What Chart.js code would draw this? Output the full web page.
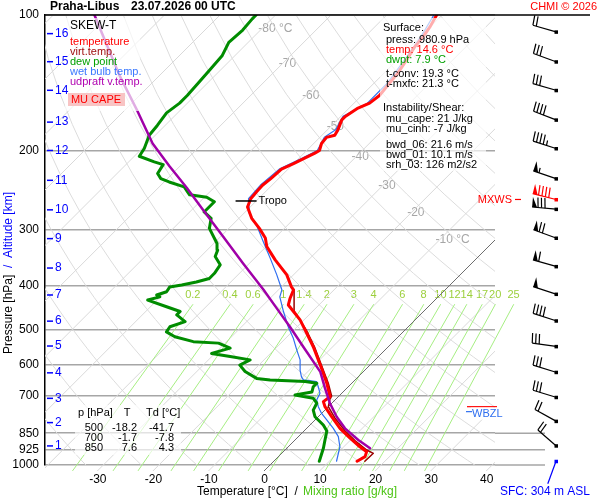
<!DOCTYPE html>
<html>
<head>
<meta charset="utf-8">
<script src="https://cdn.jsdelivr.net/npm/chart.js@4.4.1/dist/chart.umd.min.js"></script>
<style>
  html, body { margin: 0; padding: 0; background: #fff; }
  canvas { display: block; }
</style>
</head>
<body>
<canvas id="skewt" width="600" height="500"></canvas>
<script>
// ---- sounding: Praha-Libus 23.07.2026 00 UTC ----
const pressureTicks = [100, 200, 300, 400, 500, 600, 700, 850, 925, 1000];
const tempTicks = [-30, -20, -10, 0, 10, 20, 30, 40];

// temperature [°C] at pressure [hPa]
const tempP = [981, 958, 934, 911, 872, 829, 781, 742, 723, 705, 658, 610, 546, 501, 476, 456, 441, 426, 408, 402,
  378, 350, 327, 313, 298, 283, 267, 256, 247, 239, 231, 220, 214, 208, 203, 200, 193, 187, 185, 180,
  171, 168, 161, 157, 151, 142, 135, 126, 118, 112, 106, 100];
const tempT = [15.0, 15.6, 15.0, 12.9, 9.6, 6.0, 2.4, -0.6, -1.8, -1.5, -4.5, -8.1, -13.5, -18.0, -20.7, -23.4, -25.5, -26.4, -27.3, -28.2,
  -31.2, -36.0, -39.9, -41.7, -44.5, -47.7, -50.5, -51.4, -51.6, -51.7, -51.4, -51.2, -50.0, -49.0, -48.1, -47.7, -48.6, -48.8, -47.7, -48.1,
  -49.2, -49.2, -48.4, -47.2, -46.8, -47.2, -47.5, -48.3, -49.2, -49.5, -50.1, -51.0];

// virtual temperature
const virtP = [981, 942, 926, 884, 840, 786, 742, 713, 703, 657, 547, 501, 456, 408];
const virtT = [16.4, 16.5, 14.7, 11.0, 7.4, 3.2, 0.0, -1.1, -1.3, -4.3, -13.2, -17.8, -23.2, -27.2];

// dew point
const dewP = [981, 918, 880, 840, 815, 781, 755, 729, 711, 699, 688, 670, 658, 652, 647, 642, 620, 600, 584, 574,
  565, 550, 536, 532, 519, 506, 493, 480, 464, 456, 445, 430, 423, 419, 412, 402, 398, 392, 385, 375,
  359, 344, 333, 322, 298, 283, 274, 260, 254, 251, 241, 235, 231, 225, 215, 212, 206, 198, 185, 176,
  165, 157, 151, 141, 131, 123, 115, 108, 102, 100];
const dewT = [8.2, 6.6, 5.4, 4.1, 2.4, -0.6, -2.1, -2.7, -4.2, -8.1, -5.6, -6.3, -6.3, -8.7, -15.3, -18.0, -21.3, -23.4, -22.5, -26.7,
  -30.6, -28.2, -31.2, -36.0, -40.2, -42.6, -42.9, -41.1, -43.8, -43.8, -47.1, -51.7, -50.1, -51.0, -49.8, -50.1, -48.3, -46.2, -44.5, -44.5,
  -45.0, -47.4, -48.1, -49.4, -53.5, -55.0, -57.4, -57.4, -59.6, -63.1, -65.5, -69.1, -71.2, -72.7, -73.3, -75.4, -79.1, -79.6, -81.1, -81.4,
  -82.0, -81.4, -81.4, -81.7, -82.0, -82.3, -83.5, -83.2, -83.5, -83.5];

// wet bulb temperature
const wetP = [981, 911, 865, 829, 794, 768, 742, 717, 693, 670, 653, 647, 637, 615, 584, 555, 523, 493, 456, 423,
  408, 378, 347, 319, 293, 276, 256, 239, 220, 208, 200, 187, 180, 168, 157, 142, 126, 112, 100];
const wetT = [11.3, 9.3, 7.2, 4.8, 2.1, 0.0, -1.8, -3.3, -3.9, -5.4, -6.6, -9.3, -10.2, -11.7, -13.5, -15.9, -18.6, -21.6, -25.2, -28.5,
  -29.4, -33.0, -37.2, -41.4, -45.6, -49.0, -51.8, -52.1, -51.6, -49.4, -48.1, -49.2, -48.5, -49.6, -47.6, -47.6, -48.7, -49.9, -51.5];

// most unstable parcel (updraft virtual temperature)
const parcelP = [918, 880, 829, 781, 728, 674, 621, 546, 493, 447, 408, 356, 311, 271, 242, 217, 193, 164, 136, 100];
const parcelT = [15.0, 11.4, 6.9, 3.3, -0.4, -4.0, -7.7, -15.3, -21.3, -27.2, -32.7, -41.2, -49.5, -58.0, -64.9, -71.8, -79.0, -87.4, -97.3, -112.6];

// wind profile
const windP = [109, 127, 147, 171, 198, 231, 270, 313, 362, 417, 478, 545, 622, 707, 799, 906];
const windDir = [286, 290, 286, 291, 288, 289, 275, 290, 286, 288, 288, 278, 287, 287, 299, 311];
const windKt = [20, 30, 30, 40, 45, 55, 80, 70, 60, 50, 40, 30, 30, 30, 20, 20];
const maxWindP = 257, maxWindDir = 284, maxWindKt = 90;
const sfcWindP = 981, sfcWindDir = 200;

// altitude scale
const altKm = [1, 2, 3, 4, 5, 6, 7, 8, 9, 10, 11, 12, 13, 14, 15, 16];
const altP = [907, 805, 711, 624, 544, 479, 419, 365, 314, 271, 233, 200, 173, 147, 127, 110];

// levels
const tropoP = 259, tropoT = -51.2;
const fzlP = 742, wbzlP = 765;

// diagram background
const isoLabelT = [-80, -70, -60, -50, -40, -30, -20, -10];
const isoLabelP = [107, 128, 151, 177, 207, 240, 275, 316];
const thetaK = [230, 240, 250, 260, 270, 280, 290, 300, 310, 320, 330, 340, 350, 360, 370, 380, 390, 400, 410, 420, 430, 440, 450];
const mixRatios = [0.2, 0.4, 0.6, 1, 1.4, 2, 3, 4, 6, 8, 10, 12, 14, 17, 20, 25];

// texts
const surfaceLines = [
  ['Surface:', '#000'], ['press: 980.9 hPa', '#000'], ['temp: 14.6 °C', '#ff0000'], ['dwpt: 7.9 °C', '#00a000'],
  ['t-conv: 19.3 °C', '#000'], ['t-mxfc: 21.3 °C', '#000'], ['Instability/Shear:', '#000'],
  ['mu_cape: 21 J/kg', '#000'], ['mu_cinh: -7 J/kg', '#000'], ['bwd_06: 21.6 m/s', '#000'],
  ['bwd_01: 10.1 m/s', '#000'], ['srh_03: 126 m2/s2', '#000']
];
const tableP = ['500', '700', '850'];
const tableT = ['-18.2', '-1.7', '7.6'];
const tableTd = ['-41.7', '-7.8', '4.3'];

// ---- geometry helpers ----
const XMIN = -40.5, XMAX = 40.5;
const SKEW = XMAX - XMIN;           // °C shift per decade of pressure (45° isotherms)
const FONT = "Arial, 'Liberation Sans', Helvetica, sans-serif";
const skx = (t, p) => t + SKEW * Math.log10(1000 / p);
const prof = (P, T) => P.map((p, i) => ({ x: skx(T[i], p), y: p }));

function dewFromMix(w, p) {
  const e = w * p / (622 + w);
  const l = Math.log(e / 6.112);
  return 243.5 * l / (17.67 - l);
}

function line(data, color, width, order, extra) {
  return Object.assign({
    data, borderColor: color, borderWidth: width, order,
    showLine: true, pointRadius: 0, fill: false, tension: 0,
    borderJoinStyle: 'round', borderCapStyle: 'round'
  }, extra || {});
}

const datasets = [];
const adiabP = [];
for (let p = 1050; p >= 100; p -= 25) adiabP.push(p);

for (let t = -120; t <= 40; t += 10) {
  datasets.push(line([1050, 100].map(p => ({ x: skx(t, p), y: p })),
    t === 0 ? '#6e6e6e' : '#d9d9d9', 1, t === 0 ? 18 : 20, { clip: { left: 0, top: 0, right: 0, bottom: 6 } }));
}
thetaK.forEach(th => {
  datasets.push(line(adiabP.map(p => ({ x: skx(th * Math.pow(p / 1000, 0.2857) - 273.15, p), y: p })),
    '#dcdcdc', 1, 20));
});
mixRatios.forEach(w => {
  datasets.push(line([1030, 440].map(p => ({ x: skx(dewFromMix(w, p), p), y: p })),
    '#a6ee82', 1, 19, { clip: { left: 0, top: 0, right: 40, bottom: 6 } }));
});

datasets.push(line(prof(wetP, wetT), '#2f6ff0', 1.2, 5));
datasets.push(line(prof(dewP, dewT), '#008c00', 3, 4));
datasets.push(line(prof(virtP, virtT), '#9a0000', 1.5, 3));
datasets.push(line(prof(tempP, tempT), '#ff0000', 3, 2));
datasets.push(line(prof(parcelP, parcelT), '#a000a8', 2.5, 1));

function txt(ctx, s, x, y, color, size, align, bold) {
  ctx.font = (bold ? 'bold ' : '') + size + 'px ' + FONT;
  ctx.fillStyle = color;
  ctx.textAlign = align || 'left';
  ctx.textBaseline = 'middle';
  ctx.fillText(s, x, y);
}

function seg(ctx, x1, y1, x2, y2, color, w) {
  ctx.strokeStyle = color; ctx.lineWidth = w;
  ctx.beginPath(); ctx.moveTo(x1, y1); ctx.lineTo(x2, y2); ctx.stroke();
}

function barb(ctx, x, y, dir, kt, color) {
  const L = 24, a = dir * Math.PI / 180;
  const ux = Math.sin(a), uy = -Math.cos(a);
  const fx = -uy, fy = ux;
  const tx = x + ux * L, ty = y + uy * L;
  ctx.fillStyle = color;
  ctx.fillRect(x - 1.5, y - 1.5, 3.5, 3.5);
  seg(ctx, x, y, tx, ty, color, 1.2);
  let pos = 0, rest = Math.round(kt / 5) * 5;
  const at = d => [tx - ux * d, ty - uy * d];
  while (rest >= 50) {
    const [bx, by] = at(pos), [cx, cy] = at(pos + 5);
    ctx.beginPath(); ctx.moveTo(bx, by); ctx.lineTo(bx + fx * 10, by + fy * 10); ctx.lineTo(cx, cy); ctx.closePath(); ctx.fill();
    pos += 6; rest -= 50;
  }
  while (rest >= 10) {
    const [bx, by] = at(pos);
    seg(ctx, bx, by, bx + fx * 10 + ux, by + fy * 10 + uy, color, 1.2);
    pos += 3.5; rest -= 10;
  }
  if (rest >= 5) {
    if (pos === 0) pos = 3.5;
    const [bx, by] = at(pos);
    seg(ctx, bx, by, bx + fx * 5 + ux * 0.5, by + fy * 5 + uy * 0.5, color, 1.2);
  }
}

const annotate = {
  id: 'annotate',
  beforeDatasetsDraw(chart) {
    const { ctx, scales: { x, y } } = chart;
    const X = (t, p) => x.getPixelForValue(skx(t, p));
    ctx.save();
    isoLabelT.forEach((t, i) => {
      const s = (i === 0 || i === isoLabelT.length - 1) ? t + ' °C' : String(t);
      txt(ctx, s, X(t, isoLabelP[i]) - 4, y.getPixelForValue(isoLabelP[i]), '#a6a6a6', 12, 'left');
    });
    mixRatios.forEach(w => {
      txt(ctx, String(w), X(dewFromMix(w, 440), 440), y.getPixelForValue(419), '#9ccf3c', 11, 'center');
    });
    ctx.restore();
  },
  afterDatasetsDraw(chart) {
    const { ctx, chartArea: ca, scales: { x, y } } = chart;
    const X = (t, p) => x.getPixelForValue(skx(t, p));
    ctx.save();
    // translucent text panels
    ctx.fillStyle = 'rgba(255,255,255,0.68)';
    ctx.fillRect(ca.left + 20, ca.top + 3, 75, 93);
    ctx.fillRect(ca.left + 335, ca.top + 3, 106, 153);
    ctx.fillRect(ca.left + 30, ca.bottom - 60, 106, 50);

    // legend
    const lx = ca.left + 25;
    txt(ctx, 'SKEW-T', lx, 26, '#000', 12);
    [['temperature', '#ff0000'], ['virt.temp.', '#a01010'], ['dew point', '#00a000'],
     ['wet bulb temp.', '#3a78ff'], ['udpraft v.temp.', '#b000b0']].forEach((e, i) => {
      txt(ctx, e[0], lx, 42 + i * 10, e[1], 11);
    });
    ctx.fillStyle = '#f8c4c4';
    ctx.fillRect(lx - 2, 93, 57, 13);
    txt(ctx, 'MU CAPE', lx + 26, 100, '#ff0000', 11, 'center');

    // surface / instability panel
    const sy = [28, 40, 50, 60, 74, 84, 108, 119, 129, 145, 155, 165];
    surfaceLines.forEach((e, i) => {
      const indent = (i === 0 || i === 6) ? 0 : 3;
      txt(ctx, e[0], ca.left + 338 + indent, sy[i], e[1], 11);
    });

    // level table
    const ty0 = ca.bottom - 52;
    txt(ctx, 'p [hPa]', ca.left + 33, ty0, '#000', 11);
    txt(ctx, 'T', ca.left + 82, ty0, '#000', 11, 'center');
    txt(ctx, 'Td [°C]', ca.left + 101, ty0, '#000', 11);
    tableP.forEach((p, i) => {
      const yy = ty0 + 14.5 + i * 10;
      txt(ctx, p, ca.left + 58, yy, '#000', 11, 'right');
      txt(ctx, tableT[i], ca.left + 92, yy, '#000', 11, 'right');
      txt(ctx, tableTd[i], ca.left + 129, yy, '#000', 11, 'right');
    });

    // tropopause mark
    const tpx = X(tropoT, tropoP), tpy = y.getPixelForValue(tropoP);
    seg(ctx, tpx - 14, tpy, tpx + 7, tpy, '#000', 1.5);
    txt(ctx, 'Tropo', tpx + 9, tpy, '#000', 11);
    ctx.restore();
  },
  afterDraw(chart) {
    const { ctx, chartArea: ca, scales: { y } } = chart;
    ctx.save();
    // frame top line and extended low-level grid lines
    seg(ctx, ca.left, ca.top, 590, ca.top, '#000', 1.5);
    [850, 925, 1000].forEach(p => seg(ctx, ca.right, y.getPixelForValue(p), ca.right + 50, y.getPixelForValue(p), '#a6a6a6', 1.5));

    // title
    txt(ctx, 'Praha-Libus', 50, 7, '#000', 12, 'left', true);
    txt(ctx, '23.07.2026 00 UTC', 131, 7, '#000', 12, 'left', true);
    txt(ctx, 'CHMI © 2026', 597, 7, '#ff0000', 11, 'right');

    // altitude labels
    altKm.forEach((k, i) => {
      const yy = y.getPixelForValue(altP[i]);
      seg(ctx, ca.left + 2, yy, ca.left + 8, yy, '#0000ff', 1.5);
      txt(ctx, String(k), ca.left + 10, yy, '#0000ff', 12);
    });

    // axis titles
    ctx.save();
    ctx.translate(9, 273);
    ctx.rotate(-Math.PI / 2);
    ctx.font = '12px ' + FONT;
    const a = 'Pressure [hPa]', b = '  /  Altitude [km]';
    const wa = ctx.measureText(a).width, wb = ctx.measureText(b).width;
    txt(ctx, a, -(wa + wb) / 2, 0, '#000', 12);
    txt(ctx, b, -(wa + wb) / 2 + wa, 0, '#0000ff', 12);
    ctx.restore();
    txt(ctx, 'Temperature [°C]  /', 197, 492, '#000', 12);
    txt(ctx, 'Mixing ratio [g/kg]', 303, 492, '#4cc414', 12);
    txt(ctx, 'SFC: 304 m ASL', 590, 492, '#0000ff', 12, 'right');

    // wind barbs
    const bx = ca.right + 61;
    windP.forEach((p, i) => barb(ctx, bx, y.getPixelForValue(p), windDir[i], windKt[i], '#000'));
    barb(ctx, bx, y.getPixelForValue(maxWindP), maxWindDir, maxWindKt, '#ff0000');
    txt(ctx, 'MXWS', ca.right + 17, y.getPixelForValue(maxWindP), '#ff0000', 11, 'right');
    seg(ctx, ca.right + 20, y.getPixelForValue(maxWindP), ca.right + 26, y.getPixelForValue(maxWindP), '#ff0000', 1.2);
    const sfy = y.getPixelForValue(sfcWindP), sa = sfcWindDir * Math.PI / 180;
    seg(ctx, bx, sfy, bx + Math.sin(sa) * 24, sfy - Math.cos(sa) * 24, '#0000ff', 1.2);
    ctx.fillStyle = '#0000ff';
    ctx.fillRect(bx - 1.5, sfy - 1.5, 3.5, 3.5);

    // freezing / wet-bulb-zero levels
    const fy = y.getPixelForValue(fzlP), wy = y.getPixelForValue(wbzlP);
    seg(ctx, ca.right - 28, fy, ca.right + 2, fy, '#ff0000', 1.2);
    ctx.fillStyle = '#fff';
    ctx.fillRect(ca.right - 24, wy - 5, 30, 12);
    seg(ctx, ca.right - 29, wy - 1, ca.right - 23, wy - 1, '#2f6ff0', 1.2);
    txt(ctx, 'WBZL', ca.right - 23, wy + 1, '#2f6ff0', 11);
    ctx.restore();
  }
};

Chart.defaults.font.family = FONT;

new Chart(document.getElementById('skewt'), {
  type: 'scatter',
  data: { datasets },
  options: {
    responsive: false,
    animation: false,
    events: [],
    layout: { padding: { left: 0, top: 15, right: 105, bottom: 0 } },
    plugins: { legend: { display: false }, tooltip: { enabled: false } },
    scales: {
      x: {
        type: 'linear', min: XMIN, max: XMAX,
        afterBuildTicks: s => { s.ticks = tempTicks.map(v => ({ value: v })); },
        afterFit: s => { s.height = 35; },
        grid: { display: false, drawTicks: false },
        border: { display: false },
        ticks: { color: '#000', font: { size: 12 }, padding: 7, labelOffset: -5.5, autoSkip: false, maxRotation: 0, callback: v => String(v) }
      },
      y: {
        type: 'logarithmic', reverse: true, min: 100, max: 1000,
        afterBuildTicks: s => { s.ticks = pressureTicks.map(v => ({ value: v })); },
        afterFit: s => { s.width = 45; },
        grid: { color: '#a6a6a6', lineWidth: 1.5, drawTicks: false },
        border: { color: '#000', width: 1.5 },
        ticks: { color: '#000', font: { size: 12 }, padding: 6, autoSkip: false, callback: v => String(v) }
      }
    }
  },
  plugins: [annotate]
});
</script>
</body>
</html>
